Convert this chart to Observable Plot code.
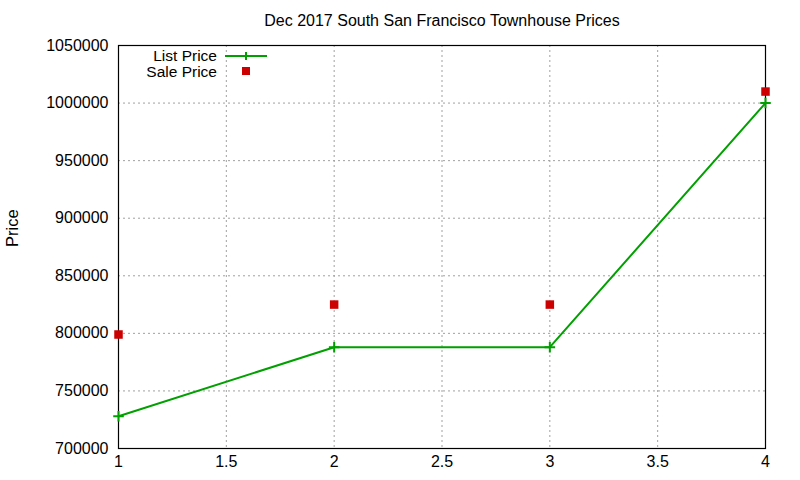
<!DOCTYPE html>
<html><head>
<meta charset="utf-8">
<script src="https://cdn.jsdelivr.net/npm/d3@7"></script>
<script src="https://cdn.jsdelivr.net/npm/@observablehq/plot@0.6"></script>
<style>
body{margin:0;background:#fff;font-family:"Liberation Sans",Arial,sans-serif;}
#wrap{position:relative;width:800px;height:480px;}
#legend{position:absolute;left:0;top:0;pointer-events:none;}
</style>
</head><body>
<div id="wrap"></div>
<script>
const title = "Dec 2017 South San Francisco Townhouse Prices";
const yLabel = "Price";
const houses = [1, 2, 3, 4];
const listPrice = [728000, 788000, 788000, 1000000];
const salePrice = [799000, 825000, 825000, 1010000];
const xTicks = [1, 1.5, 2, 2.5, 3, 3.5, 4];
const yTicks = [700000, 750000, 800000, 850000, 900000, 950000, 1000000, 1050000];
const seriesNames = ["List Price", "Sale Price"];
const listColor = "#00a000";
const saleColor = "#cc0000";

const data = houses.map((h, i) => ({x: h, list: listPrice[i], sale: salePrice[i]}));
const gridStyle = {stroke: "#a0a0a0", strokeOpacity: 1, strokeWidth: 1, strokeDasharray: "2,3"};

const chart = Plot.plot({
  width: 800,
  height: 480,
  marginLeft: 118,
  marginRight: 35,
  marginTop: 45,
  marginBottom: 32,
  style: {fontFamily: "Liberation Sans, Arial, sans-serif", fontSize: "16px", color: "#000", background: "#fff"},
  x: {domain: [1, 4]},
  y: {domain: [700000, 1050000]},
  marks: [
    Plot.gridX(xTicks, gridStyle),
    Plot.gridY(yTicks, gridStyle),
    Plot.axisX(xTicks, {tickSize: 0, tickPadding: 7, fontSize: 16, tickFormat: d => String(d), label: null}),
    Plot.axisY(yTicks, {tickSize: 0, tickPadding: 10, fontSize: 16, tickFormat: d => String(d), label: null}),
    Plot.frame({stroke: "#000", strokeWidth: 1.2}),
    Plot.line(data, {x: "x", y: "list", stroke: listColor, strokeWidth: 2}),
    Plot.dot(data, {x: "x", y: "list", symbol: "plus", r: 3.5, stroke: listColor, strokeWidth: 2}),
    Plot.dot(data, {x: "x", y: "sale", symbol: "square", r: 4.8, fill: saleColor, stroke: "none"}),
    Plot.text([yLabel], {text: d => d, frameAnchor: "left", dx: -106, rotate: -90, fontSize: 16.5}),
    Plot.text([title], {text: d => d, frameAnchor: "top", lineAnchor: "middle", dy: -25, fontSize: 16})
  ]
});
document.getElementById("wrap").appendChild(chart);

// legend overlay
const leg = d3.select("#wrap").append("svg")
  .attr("id", "legend").attr("width", 800).attr("height", 100)
  .style("font-family", "Liberation Sans, Arial, sans-serif").style("font-size", "15.5px");
const rows = [
  {name: seriesNames[0], y: 55},
  {name: seriesNames[1], y: 71}
];
rows.forEach(r => {
  leg.append("text").attr("x", 217).attr("y", r.y).attr("text-anchor", "end")
    .attr("dominant-baseline", "central").text(r.name);
});
leg.append("line").attr("x1", 225).attr("x2", 267).attr("y1", 56).attr("y2", 56)
  .attr("stroke", listColor).attr("stroke-width", 2);
leg.append("path").attr("d", "M242,56H250M246,52V60").attr("stroke", listColor).attr("stroke-width", 2);
leg.append("rect").attr("x", 242).attr("y", 67).attr("width", 8).attr("height", 8).attr("fill", saleColor);
</script>
</body></html>
